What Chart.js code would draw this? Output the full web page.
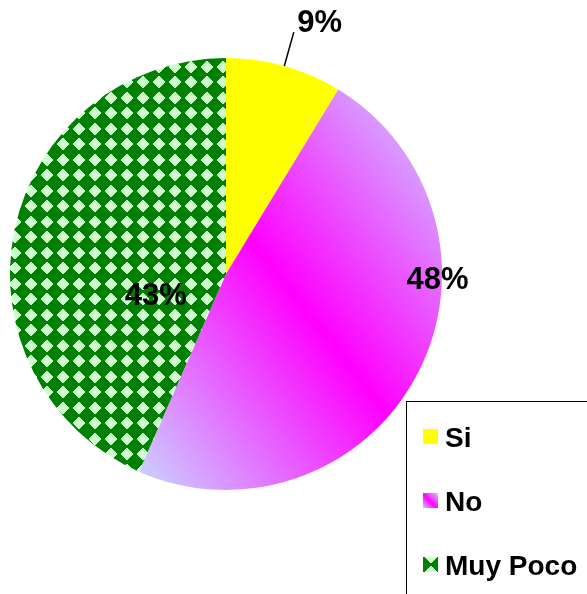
<!DOCTYPE html>
<html>
<head>
<meta charset="utf-8">
<script src="https://cdn.jsdelivr.net/npm/chart.js@4/dist/chart.umd.min.js"></script>
<style>
html,body{margin:0;padding:0;background:#fff;overflow:hidden}
#wrap{position:relative;width:587px;height:594px}
canvas{display:block}
</style>
</head>
<body>
<div id="wrap"><canvas id="c" width="587" height="594"></canvas></div>
<script>
// ---- data ----
const categories = ['Si', 'No', 'Muy Poco'];
const values = [8.7, 47.9, 43.4];
const valueLabels = ['9%', '48%', '43%'];

// ---- styles ----
const SI_COLOR = '#FFFF00';
const GREEN_DARK = '#008000';
const GREEN_LIGHT = '#CCFFCC';
const LAV = '#CCCCFF';
const MAG = '#FF00FF';
const FONT_LABEL = 'bold 31px "Liberation Sans", Arial, sans-serif';
const FONT_LEGEND = 'bold 28px "Liberation Sans", Arial, sans-serif';

// label placement: angle (deg clockwise from top), distance as fraction of radius
const labelPlacement = [
  {angle: 21.2, dist: 1.20},
  {angle: 94.1, dist: 0.982},
  {angle: 246.1, dist: 0.355}
];

// diamond row widths (pattern motif)
const diamondRows = [2, 4, 6, 8, 10, 12, 12, 10, 8, 6, 4, 2];

const canvas = document.getElementById('c');
const mainCtx = canvas.getContext('2d');

function drawDiamond(g, cx, top) {
  diamondRows.forEach((w, k) => {
    g.fillRect(Math.round(cx - w / 2), top + k, w, 1);
  });
}

function makePattern() {
  const t = document.createElement('canvas');
  t.width = 16; t.height = 31;
  const g = t.getContext('2d');
  g.fillStyle = GREEN_DARK; g.fillRect(0, 0, 16, 31);
  g.fillStyle = GREEN_LIGHT;
  drawDiamond(g, 8, 2);
  drawDiamond(g, 8, 17);
  const p = mainCtx.createPattern(t, 'repeat');
  try { p.setTransform(new DOMMatrix([1, 0, 0, 1, 7, -3])); } catch (e) {}
  return p;
}
const greenPattern = makePattern();

function geom(chart) {
  const a = chart.chartArea;
  const cx = (a.left + a.right) / 2, cy = (a.top + a.bottom) / 2;
  const r = Math.min(a.right - a.left, a.bottom - a.top) / 2;
  return {cx, cy, r};
}

function noGradient(chart) {
  const {cx, cy, r} = geom(chart);
  const ccx = cx + 0.25 * r, ccy = cy + 0.0116 * r;
  const ux = 0.789, uy = -0.615, h = 1.065 * r;
  const g = mainCtx.createLinearGradient(ccx - ux * h, ccy - uy * h, ccx + ux * h, ccy + uy * h);
  g.addColorStop(0, LAV);
  g.addColorStop(0.5, MAG);
  g.addColorStop(1, LAV);
  return g;
}

function fillFor(c) {
  const i = c.dataIndex;
  if (i === 0) return SI_COLOR;
  if (i === 2) return greenPattern;
  if (!c.chart.chartArea) return MAG;
  return noGradient(c.chart);
}

const labelPlugin = {
  id: 'valueLabels',
  afterDatasetsDraw(chart) {
    const ctx = chart.ctx;
    const meta = chart.getDatasetMeta(0);
    const arc0 = meta.data[0];
    const cx = arc0.x, cy = arc0.y, r = arc0.outerRadius;
    ctx.save();
    const mid = (arc0.startAngle + arc0.endAngle) / 2;
    ctx.strokeStyle = '#000';
    ctx.lineWidth = 1.5;
    ctx.beginPath();
    ctx.moveTo(cx + Math.cos(mid) * r * 1.0, cy + Math.sin(mid) * r * 1.0);
    ctx.lineTo(cx + Math.cos(mid) * r * 1.163, cy + Math.sin(mid) * r * 1.163);
    ctx.stroke();
    ctx.font = FONT_LABEL;
    ctx.fillStyle = '#000';
    ctx.textAlign = 'center';
    ctx.textBaseline = 'alphabetic';
    valueLabels.forEach((t, i) => {
      const p = labelPlacement[i];
      const a = p.angle * Math.PI / 180;
      const x = cx + Math.sin(a) * p.dist * r;
      const y = cy - Math.cos(a) * p.dist * r;
      ctx.fillText(t, x, y);
    });
    ctx.restore();
  }
};

const legendPlugin = {
  id: 'boxLegend',
  afterDraw(chart) {
    const ctx = chart.ctx;
    ctx.save();
    ctx.fillStyle = '#fff';
    ctx.fillRect(407, 402, 200, 200);
    ctx.strokeStyle = '#000';
    ctx.lineWidth = 1;
    ctx.strokeRect(406.5, 401.5, 300, 300);
    const baselines = [447, 511, 575];
    const sx = 423, size = 15;
    categories.forEach((name, i) => {
      const top = baselines[i] - 3 - size;
      if (i === 0) {
        ctx.fillStyle = SI_COLOR;
        ctx.fillRect(sx, top, size, size);
      } else if (i === 1) {
        const g = ctx.createLinearGradient(sx, top + size, sx + size, top);
        g.addColorStop(0, LAV); g.addColorStop(0.45, MAG); g.addColorStop(1, LAV);
        ctx.fillStyle = g;
        ctx.fillRect(sx, top, size, size);
      } else {
        ctx.fillStyle = GREEN_DARK;
        ctx.fillRect(sx, top, size, size);
        ctx.fillStyle = GREEN_LIGHT;
        const swRows = [12, 10, 8, 6, 4, 2];
        swRows.forEach((w, k) => {
          ctx.fillRect(Math.round(sx + 7.5 - w / 2), top + k, w, 1);
          ctx.fillRect(Math.round(sx + 7.5 - w / 2), top + size - 1 - k, w, 1);
        });
      }
      ctx.fillStyle = '#000';
      ctx.font = FONT_LEGEND;
      ctx.textAlign = 'left';
      ctx.textBaseline = 'alphabetic';
      ctx.fillText(name, 445, baselines[i]);
    });
    ctx.restore();
  }
};

new Chart(canvas, {
  type: 'pie',
  data: {
    labels: categories,
    datasets: [{
      data: values,
      backgroundColor: fillFor,
      borderWidth: 0,
      hoverOffset: 0,
      offset: 0
    }]
  },
  options: {
    responsive: false,
    animation: false,
    events: [],
    layout: {padding: {left: 10, right: 145, top: 58, bottom: 104}},
    plugins: {legend: {display: false}, tooltip: {enabled: false}}
  },
  plugins: [labelPlugin, legendPlugin]
});
</script>
</body>
</html>
